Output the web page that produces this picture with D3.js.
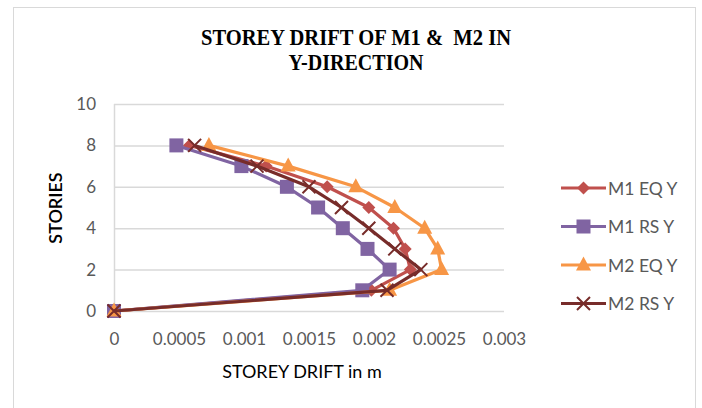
<!DOCTYPE html>
<html>
<head>
<meta charset="utf-8">
<script src="https://cdn.jsdelivr.net/npm/d3@7"></script>
<style>
  body { margin: 0; background: #fff; }
  text { font-family: Lato, "Liberation Sans", sans-serif; }
</style>
</head>
<body>
<div id="chart"></div>
<script>
var width = 702, height = 408;
var margin = { top: 104, right: 198, bottom: 97, left: 114 };

var stories = [0, 1, 2, 3, 4, 5, 6, 7, 8];
var m1EqY = [0, 0.00198, 0.00228, 0.00224, 0.00215, 0.00196, 0.00164, 0.00117, 0.00058];
var m1RsY = [0, 0.00191, 0.00212, 0.00195, 0.00176, 0.00157, 0.00133, 0.00098, 0.00048];
var m2EqY = [0, 0.00212, 0.00252, 0.00249, 0.00239, 0.00216, 0.00186, 0.00134, 0.00073];
var m2RsY = [0, 0.00210, 0.00236, 0.00216, 0.00196, 0.00175, 0.00150, 0.00110, 0.00062];
var xTicks = [0, 0.0005, 0.001, 0.0015, 0.002, 0.0025, 0.003];
var yTicks = [0, 2, 4, 6, 8, 10];

var series = [
  { name: "M1 EQ Y", values: m1EqY, color: "#C0504D", marker: "diamond" },
  { name: "M1 RS Y", values: m1RsY, color: "#8064A2", marker: "square" },
  { name: "M2 EQ Y", values: m2EqY, color: "#F79646", marker: "triangle" },
  { name: "M2 RS Y", values: m2RsY, color: "#772C2A", marker: "cross" }
];

var svg = d3.select("#chart").append("svg")
    .attr("width", width)
    .attr("height", height);

// chart border
svg.append("rect")
    .attr("x", 13.5).attr("y", 7.5)
    .attr("width", 682).attr("height", 410)
    .attr("fill", "none")
    .attr("stroke", "#D9D9D9");

var x = d3.scaleLinear()
    .domain([0, 0.003])
    .range([margin.left, width - margin.right]);

var y = d3.scaleLinear()
    .domain([0, 10])
    .range([height - margin.bottom, margin.top]);

// gridlines
svg.append("g")
    .selectAll("line").data(yTicks).enter().append("line")
    .attr("x1", x(0)).attr("x2", x(0.003))
    .attr("y1", function(d){ return y(d) + 0.5; })
    .attr("y2", function(d){ return y(d) + 0.5; })
    .attr("stroke", "#D9D9D9")
    .attr("stroke-width", 1.5);

svg.append("line")
    .attr("x1", x(0) + 0.5).attr("x2", x(0) + 0.5)
    .attr("y1", y(0)).attr("y2", y(10))
    .attr("stroke", "#D9D9D9")
    .attr("stroke-width", 1.5);

// axes
var xAxis = d3.axisBottom(x).tickValues(xTicks).tickSize(0).tickPadding(22)
    .tickFormat(function(d){ return d === 0 ? "0" : String(+d.toFixed(4)); });
var yAxis = d3.axisLeft(y).tickValues(yTicks).tickSize(0).tickPadding(18);

svg.append("g")
    .attr("transform", "translate(0," + y(0) + ")")
    .call(xAxis)
    .call(function(g){ g.select(".domain").remove(); })
    .selectAll("text")
    .attr("fill", "#595959")
    .style("font-size", "17px")
    .style("font-family", "Lato, sans-serif");

svg.append("g")
    .attr("transform", "translate(" + x(0) + ",0)")
    .call(yAxis)
    .call(function(g){ g.select(".domain").remove(); })
    .selectAll("text")
    .attr("fill", "#595959")
    .style("font-size", "17px")
    .style("font-family", "Lato, sans-serif");

// title
svg.append("text")
    .attr("x", 356).attr("y", 45)
    .attr("text-anchor", "middle")
    .attr("textLength", 310).attr("lengthAdjust", "spacingAndGlyphs")
    .style("white-space", "pre")
    .style("font-family", "'Liberation Serif', serif")
    .style("font-weight", "bold")
    .style("font-size", "23px")
    .attr("fill", "#000")
    .text("STOREY DRIFT OF M1 &  M2 IN");

svg.append("text")
    .attr("x", 356).attr("y", 70)
    .attr("text-anchor", "middle")
    .attr("textLength", 135).attr("lengthAdjust", "spacingAndGlyphs")
    .style("font-family", "'Liberation Serif', serif")
    .style("font-weight", "bold")
    .style("font-size", "23px")
    .attr("fill", "#000")
    .text("Y-DIRECTION");

// axis titles
svg.append("text")
    .attr("transform", "translate(62,208) rotate(-90)")
    .attr("text-anchor", "middle")
    .style("font-size", "18px")
    .style("font-weight", "600")
    .attr("fill", "#000")
    .text("STORIES");

svg.append("text")
    .attr("x", 302).attr("y", 378)
    .attr("text-anchor", "middle")
    .style("font-size", "18px")
    .attr("fill", "#000")
    .text("STOREY DRIFT in m");

var line = d3.line()
    .x(function(d){ return x(d[0]); })
    .y(function(d){ return y(d[1]); });

function drawMarker(g, type, color) {
  if (type === "diamond") {
    g.append("path").attr("d", "M0,-6.5L6.5,0L0,6.5L-6.5,0Z").attr("fill", color);
  } else if (type === "square") {
    g.append("rect").attr("x", -7).attr("y", -7).attr("width", 14).attr("height", 14)
        .attr("fill", color);
  } else if (type === "triangle") {
    g.append("path").attr("d", "M0,-8.5L7.5,5.5L-7.5,5.5Z").attr("fill", color);
  } else {
    g.append("path").attr("d", "M-6.5,-6.5L6.5,6.5M-6.5,6.5L6.5,-6.5")
        .attr("stroke", color).attr("stroke-width", 2).attr("fill", "none");
  }
}

series.forEach(function(s) {
  var pts = s.values.map(function(v, i){ return [v, stories[i]]; });
  var g = svg.append("g");
  g.append("path")
      .attr("d", line(pts))
      .attr("fill", "none")
      .attr("stroke", s.color)
      .attr("stroke-width", 3.2)
      .attr("stroke-linejoin", "round");
  g.selectAll(".m").data(pts).enter().append("g")
      .attr("transform", function(d){ return "translate(" + x(d[0]) + "," + y(d[1]) + ")"; })
      .each(function(){ drawMarker(d3.select(this), s.marker, s.color); });
});

// legend
var legend = svg.append("g");
series.forEach(function(s, i) {
  var ly = 188 + i * 38.5;
  var lg = legend.append("g");
  lg.append("line")
      .attr("x1", 561).attr("x2", 606)
      .attr("y1", ly).attr("y2", ly)
      .attr("stroke", s.color).attr("stroke-width", 3.2);
  var mg = lg.append("g").attr("transform", "translate(583.5," + ly + ")");
  drawMarker(mg, s.marker, s.color);
  lg.append("text")
      .attr("x", 608).attr("y", ly + 6.5)
      .style("font-size", "17.5px")
      .attr("fill", "#595959")
      .text(s.name);
});
</script>
</body>
</html>
